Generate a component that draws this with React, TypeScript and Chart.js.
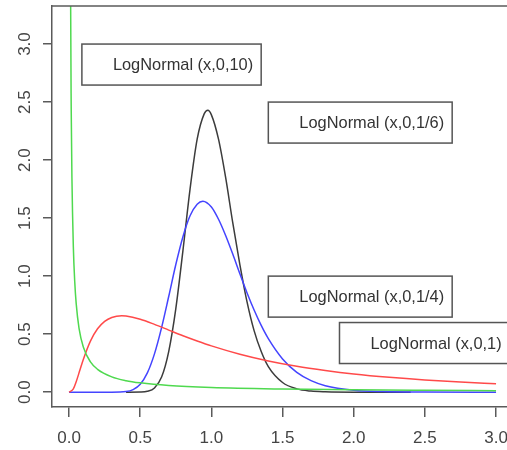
import { useEffect, useRef } from "react";
import { Chart, registerables } from "chart.js";

Chart.register(...registerables);

// Axis ticks
const xTicks = [0, 0.5, 1, 1.5, 2, 2.5, 3];
const xTickLabels = ["0.0", "0.5", "1.0", "1.5", "2.0", "2.5", "3.0"];
const yTicks = [0, 0.5, 1, 1.5, 2, 2.5, 3];
const yTickLabels = ["0.0", "0.5", "1.0", "1.5", "2.0", "2.5", "3.0"];

// Log-normal densities, meanlog 0
// sdlog = 10
const sd10X = [0.003, 0.006, 0.01, 0.015, 0.02, 0.03, 0.04, 0.05, 0.07, 0.1, 0.15, 0.2, 0.3, 0.4, 0.5, 0.7, 1.0, 1.5, 2.0, 2.5, 3.0];
const sd10Y = [11.2, 5.83, 3.59, 2.44, 1.85, 1.25, 0.947, 0.763, 0.55, 0.389, 0.261, 0.197, 0.132, 0.099, 0.08, 0.057, 0.04, 0.027, 0.02, 0.016, 0.013];

// sdlog = 1
const sd1X = [0, 0.03, 0.05, 0.075, 0.1, 0.15, 0.2, 0.25, 0.3, 0.37, 0.4, 0.5, 0.6, 0.7, 0.8, 0.9, 1.0, 1.2, 1.4, 1.6, 1.8, 2.0, 2.25, 2.5, 2.75, 3.0];
const sd1Y = [0, 0.028, 0.09, 0.186, 0.282, 0.44, 0.546, 0.61, 0.644, 0.658, 0.656, 0.628, 0.584, 0.535, 0.486, 0.441, 0.399, 0.327, 0.269, 0.223, 0.187, 0.157, 0.128, 0.105, 0.087, 0.073];

// sdlog = 1/4
const sdQuarterX = [0, 0.3, 0.4, 0.45, 0.5, 0.55, 0.6, 0.65, 0.7, 0.75, 0.8, 0.85, 0.9, 0.94, 1.0, 1.05, 1.1, 1.15, 1.2, 1.25, 1.3, 1.35, 1.4, 1.5, 1.6, 1.7, 1.8, 2.0, 2.2, 2.5, 3.0];
const sdQuarterY = [0, 0, 0.005, 0.022, 0.068, 0.166, 0.33, 0.556, 0.824, 1.1, 1.34, 1.52, 1.62, 1.646, 1.596, 1.49, 1.35, 1.19, 1.02, 0.857, 0.708, 0.575, 0.461, 0.286, 0.17, 0.099, 0.056, 0.017, 0.005, 0.001, 0];

// sdlog = 1/6
const sdSixthX = [0.4, 0.5, 0.55, 0.6, 0.65, 0.7, 0.75, 0.8, 0.85, 0.9, 0.95, 0.975, 1.0, 1.05, 1.1, 1.15, 1.2, 1.25, 1.3, 1.35, 1.4, 1.5, 1.6, 1.7, 1.8, 2.0, 2.4];
const sdSixthY = [0, 0.001, 0.007, 0.036, 0.13, 0.35, 0.72, 1.22, 1.75, 2.18, 2.4, 2.43, 2.39, 2.18, 1.85, 1.46, 1.1, 0.78, 0.53, 0.35, 0.22, 0.083, 0.028, 0.009, 0.003, 0, 0];

const legendLabels = ["LogNormal (x,0,10)", "LogNormal (x,0,1/6)", "LogNormal (x,0,1/4)", "LogNormal (x,0,1)"];

const pts = (xs: number[], ys: number[]) => xs.map((x, i) => ({ x, y: ys[i] }));

const TEXT_FONT = '"Liberation Sans", Arial, sans-serif';

// Frame top edge, rotated y labels, x labels and the text boxes
const decorations = {
  id: "decorations",
  afterDatasetsDraw(chart: any) {
    const { ctx, chartArea } = chart;
    const xs = chart.scales.x;
    const ys = chart.scales.y;
    ctx.save();

    // top edge of the plot frame
    ctx.strokeStyle = "#5a5a5a";
    ctx.lineWidth = 1.5;
    ctx.beginPath();
    ctx.moveTo(chartArea.left, chartArea.top);
    ctx.lineTo(chartArea.right, chartArea.top);
    ctx.stroke();

    // tick labels
    ctx.fillStyle = "#444";
    ctx.font = `17px ${TEXT_FONT}`;
    ctx.textAlign = "center";
    ctx.textBaseline = "middle";
    xTicks.forEach((v, i) => {
      ctx.fillText(xTickLabels[i], xs.getPixelForValue(v), chartArea.bottom + 31);
    });
    yTicks.forEach((v, i) => {
      ctx.save();
      ctx.translate(chartArea.left - 27, ys.getPixelForValue(v));
      ctx.rotate(-Math.PI / 2);
      ctx.fillText(yTickLabels[i], 0, 0);
      ctx.restore();
    });

    // text boxes, anchored by their top-left corner in data units
    const anchors = [
      [0.09, 3.0],
      [1.4, 2.5],
      [1.4, 1.0],
      [1.9, 0.6],
    ];
    ctx.font = `16.4px ${TEXT_FONT}`;
    ctx.textAlign = "left";
    legendLabels.forEach((label, i) => {
      const left = xs.getPixelForValue(anchors[i][0]);
      const top = ys.getPixelForValue(anchors[i][1]);
      const w = ctx.measureText(label).width + 39;
      const h = 41;
      ctx.fillStyle = "#fff";
      ctx.fillRect(left, top, w, h);
      ctx.strokeStyle = "#555";
      ctx.lineWidth = 1.5;
      ctx.strokeRect(left, top, w, h);
      ctx.fillStyle = "#333";
      ctx.fillText(label, left + 31, top + h / 2 + 1);
    });

    ctx.restore();
  },
};

export default function App() {
  const canvasRef = useRef<HTMLCanvasElement | null>(null);

  useEffect(() => {
    const canvas = canvasRef.current;
    if (!canvas) return;
    const line = (data: any[], color: string) => ({
      data,
      borderColor: color,
      borderWidth: 1.5,
      pointRadius: 0,
      fill: false,
      cubicInterpolationMode: "monotone" as const,
    });
    const chart = new Chart(canvas, {
      type: "line",
      data: {
        datasets: [
          line(pts(sd10X, sd10Y), "#4fd94f"),
          line(pts(sd1X, sd1Y), "#ff4a4a"),
          line(pts(sdQuarterX, sdQuarterY), "#4444ff"),
          line(pts(sdSixthX, sdSixthY), "#3c3c3c"),
        ],
      },
      options: {
        animation: false,
        responsive: false,
        devicePixelRatio: 1,
        events: [],
        layout: { padding: { top: 6, left: 0, right: 0, bottom: 0 } },
        plugins: { legend: { display: false }, tooltip: { enabled: false } },
        scales: {
          x: {
            type: "linear",
            min: -0.12,
            max: 3.077,
            afterBuildTicks: (s: any) => {
              s.ticks = xTicks.map((v) => ({ value: v }));
            },
            afterFit: (s: any) => {
              s.height = 43;
            },
            ticks: { display: false },
            grid: { display: true, drawOnChartArea: false, drawTicks: true, tickLength: 10, color: "#5a5a5a", lineWidth: 1.5 },
            border: { display: true, color: "#5a5a5a", width: 1.5 },
          },
          y: {
            type: "linear",
            min: -0.128,
            max: 3.328,
            afterBuildTicks: (s: any) => {
              s.ticks = yTicks.map((v) => ({ value: v }));
            },
            afterFit: (s: any) => {
              s.width = 52;
            },
            ticks: { display: false },
            grid: { display: true, drawOnChartArea: false, drawTicks: true, tickLength: 9, color: "#5a5a5a", lineWidth: 1.5 },
            border: { display: true, color: "#5a5a5a", width: 1.5 },
          },
        },
      },
      plugins: [decorations],
    });
    return () => chart.destroy();
  }, []);

  return (
    <div style={{ position: "fixed", left: 0, top: 0, width: 507, height: 450, background: "#fff" }}>
      <canvas ref={canvasRef} width={507} height={450} style={{ display: "block" }} />
    </div>
  );
}
